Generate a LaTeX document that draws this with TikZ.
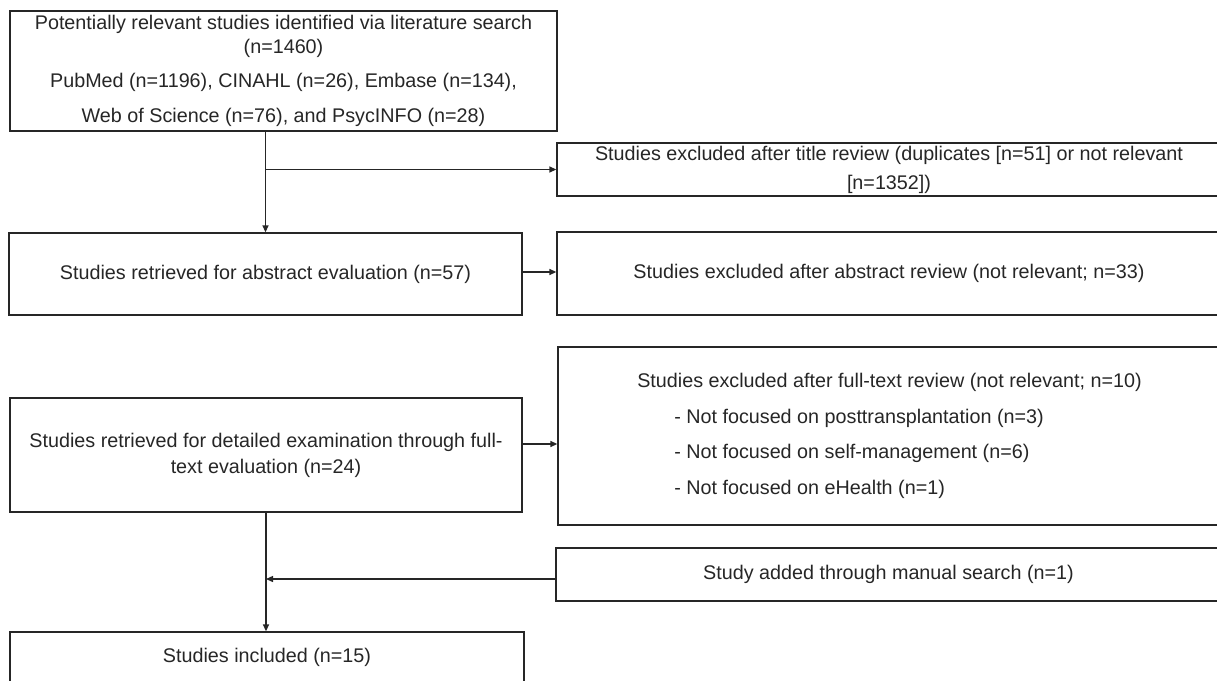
\documentclass[tikz,border=0pt]{standalone}
\usepackage{fontspec}
\setmainfont{Liberation Sans}
\usetikzlibrary{arrows.meta}
\begin{document}
\begin{tikzpicture}[x=1pt,y=-1pt,
  box/.style={draw=black!85, line width=1.3pt, inner sep=0pt, text=black!85,
    font=\fontsize{19.75}{24}\selectfont, align=center},
  arr/.style={draw=black!85, line width=1.3pt, -{Triangle[length=7pt,width=6pt]}}]
\useasboundingbox (0,0) rectangle (1217,680);
% main column
\node[box, minimum width=547pt, minimum height=120pt] (b1) at (283.5,71)
  {Potentially relevant studies identified via literature search\\(n=1460)\\[10pt]PubMed (n=1196), CINAHL (n=26), Embase (n=134),\\[11pt]Web of Science (n=76), and PsycINFO (n=28)};
\node[box, minimum width=513pt, minimum height=82pt] (b2) at (265.5,274)
  {Studies retrieved for abstract evaluation (n=57)};
\node[box, minimum width=512pt, minimum height=114pt] (b3) at (266,455)
  {Studies retrieved for detailed examination through full-\\[2pt]text evaluation (n=24)};
\node[box, minimum width=514pt, minimum height=50pt] (b4) at (267,657)
  {Studies included (n=15)};
% side boxes
\node[box, minimum width=664pt, minimum height=53pt] (e1) at (889,169.5)
  {Studies excluded after title review (duplicates [n=51] or not relevant\\[5pt][n=1352])};
\node[box, minimum width=664pt, minimum height=83pt] (e2) at (889,273.5)
  {Studies excluded after abstract review (not relevant; n=33)};
\node[box, align=left, minimum width=663pt, minimum height=178pt] (e3) at (889.5,436)
  {Studies excluded after full-text review (not relevant; n=10)\\[12pt]
   \hspace*{37pt}- Not focused on posttransplantation (n=3)\\[11pt]
   \hspace*{37pt}- Not focused on self-management (n=6)\\[12pt]
   \hspace*{37pt}- Not focused on eHealth (n=1)};
\node[box, minimum width=665pt, minimum height=53pt] (m) at (888.5,574.5)
  {Study added through manual search (n=1)};
% connectors
\draw[arr] (b1.south -| b2.north) -- (b2.north);
\draw[arr] (b2.north |- e1.west) -- (e1.west);
\coordinate (b2a) at ([yshift=2pt]b2.east);
\draw[arr] (b2a) -- (b2a -| e2.west);
\coordinate (b3a) at ([yshift=11pt]b3.east);
\draw[arr] (b3a) -- (b3a -| e3.west);
\draw[arr] (b3.south) -- (b4.north -| b3.south);
\coordinate (mj) at ([yshift=-4.5pt]m.west);
\draw[arr] (mj) -- (mj -| b3.south);
\end{tikzpicture}
\end{document}
